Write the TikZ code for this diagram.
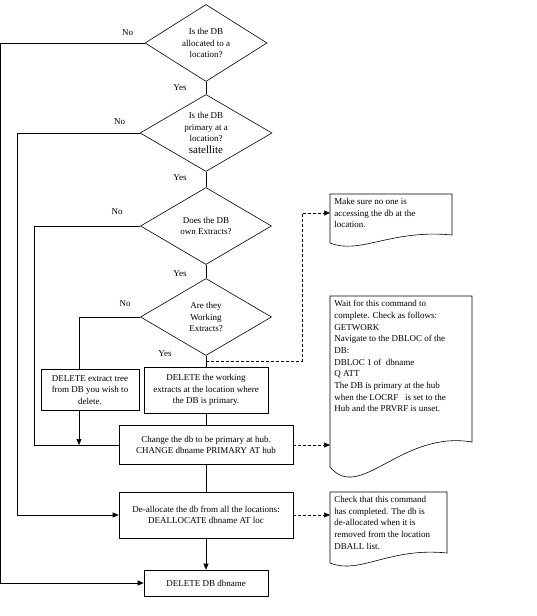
\documentclass[tikz,border=0pt]{standalone}
\usepackage{fontspec}
\setmainfont{Liberation Serif}
\usetikzlibrary{shapes.geometric, positioning, arrows.meta}

\tikzset{
  decision/.style={diamond, draw, aspect=1.6, inner sep=0pt, minimum width=131pt, minimum height=77pt, align=center},
  process/.style={rectangle, draw, align=center, minimum width=124pt, minimum height=46pt},
  note/.style={anchor=north west, align=left, inner xsep=4pt, inner ysep=4pt},
  comment/.style={dash pattern=on 3pt off 2pt},
}

\begin{document}
\begin{tikzpicture}[node distance=90pt, on grid, >={Triangle[length=6pt,width=5pt]}, line width=0.6pt, font=\fontsize{9}{11.7}\selectfont]
    \path[use as bounding box] (0,0) rectangle (536pt,-616pt);

    % questions
    \node[decision, minimum width=122pt] (d1) at (206pt,-43pt) {Is the DB\\ allocated to a\\ location?};
    \node[decision, minimum width=132pt] (d2) [below=90pt of d1] {Is the DB\\ primary at a\\ location?\\ {\fontsize{11}{12}\selectfont satellite}};
    \node[decision] (d3) [below=93pt of d2] {Does the DB\\ own Extracts?};
    \node[decision] (d4) [below=91pt of d3] {Are they\\ Working\\ Extracts?};

    % steps
    \node[process] (work) [below=73pt of d4] {DELETE the working\\ extracts at the location where\\ the DB is primary.};
    \node[process, minimum width=98pt, minimum height=41pt] (ext) [left=116pt of work] {DELETE extract tree\\ from DB you wish to\\ delete.};
    \node[process, minimum width=174pt, minimum height=39pt] (chg) [below=55pt of work] {Change the db to be primary at hub.\\ CHANGE dbname PRIMARY AT hub};
    \node[process, minimum width=174pt] (dal) [below=70pt of chg] {De-allocate the db from all the locations:\\ DEALLOCATE dbname AT loc};
    \node[process, minimum height=26pt] (ddb) [below=68pt of dal] {DELETE DB dbname};

    % notes
    \node[note] (n1) at (330pt,-194pt) {Make sure no one is\\ accessing the db at the\\ location.};
    \node[note] (n2) at (330pt,-296pt) {Wait for this command to\\ complete. Check as follows:\\ GETWORK\\ Navigate to the DBLOC of the\\ DB:\\ DBLOC 1 of \ dbname\\ Q ATT\\ The DB is primary at the hub\\ when the LOCRF \ \ is set to the\\ Hub and the PRVRF is unset.};
    \node[note] (n3) at (330pt,-492pt) {Check that this command\\ has completed. The db is\\ de-allocated when it is\\ removed from the location\\ DBALL list.};
    \draw (n1.north west) -- ++(122pt,0) -- ++(0,-41pt) .. controls +(-61pt,6pt) and +(30pt,-12pt) .. ++(-122pt,-8pt) -- cycle;
    \draw (n2.north west) -- ++(142pt,0) -- ++(0,-146pt) .. controls +(-71pt,12pt) and +(30pt,-36pt) .. ++(-142pt,-25pt) -- cycle;
    \draw (n3.north west) -- ++(117pt,0) -- ++(0,-61pt) .. controls +(-58pt,6pt) and +(30pt,-12pt) .. ++(-117pt,-10pt) -- cycle;

    % yes branch
    \draw (d1.south) -- (d2.north);
    \draw (d2.south) -- (d3.north);
    \draw (d3.south) -- (d4.north);
    \draw (d4.south) -- (work.north);
    \draw (work.south) -- (chg.north);
    \draw (chg.south) -- (dal.north);
    \draw[->] (dal.south) -- (ddb.north);

    % no branch
    \draw[->] (d1.west) -- ++(-144pt,0) |- (ddb.west);
    \draw[->] (d2.west) -- ++(-122pt,0) |- (dal.west);
    \draw (d3.west) -- ++(-106pt,0) |- (chg.west);
    \draw (d4.west) -| ([xshift=-11pt]ext.north);
    \draw[->] ([xshift=-11pt]ext.south) -- ([xshift=-11pt]ext.south |- chg.west);

    % to the notes
    \draw[comment, ->] ([yshift=-5pt]d4.south) -- ++(96pt,0) |- ([yshift=-19pt]n1.north west);
    \draw[comment, ->] (chg.east) -- (chg.east -| n2.west);
    \draw[comment, ->] (dal.east) -- (dal.east -| n3.west);

    % labels
    \node (no1) at ([shift={(-17pt,10pt)}]d1.west) {No};
    \node (no2) at ([shift={(-20pt,11pt)}]d2.west) {No};
    \node (no3) at ([shift={(-23pt,14pt)}]d3.west) {No};
    \node (no4) at ([shift={(-15pt,13pt)}]d4.west) {No};
    \node (yes1) at ([shift={(-26pt,-6pt)}]d1.south) {Yes};
    \node (yes2) at ([shift={(-26pt,-6pt)}]d2.south) {Yes};
    \node (yes3) at ([shift={(-26pt,-9pt)}]d3.south) {Yes};
    \node (yes4) at ([shift={(-41pt,2pt)}]d4.south) {Yes};
\end{tikzpicture}
\end{document}
